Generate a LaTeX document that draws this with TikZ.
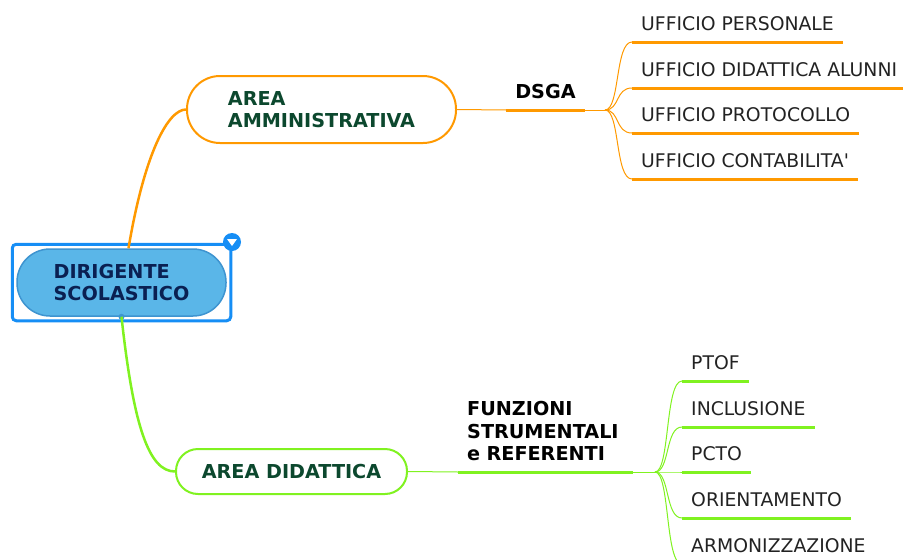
\documentclass[tikz,border=0pt]{standalone}
\usepackage{fontspec}
\setmainfont{DejaVu Sans}[Ligatures=TeXOff]
\usetikzlibrary{fit}
\definecolor{amorange}{RGB}{255,153,0}
\definecolor{didgreen}{RGB}{128,242,32}
\definecolor{areatext}{RGB}{12,72,46}
\definecolor{roottext}{RGB}{10,32,82}
\definecolor{rootfill}{RGB}{90,182,232}
\definecolor{rootdraw}{RGB}{62,148,208}
\definecolor{selblue}{RGB}{22,142,245}
\definecolor{leaftext}{RGB}{34,34,34}
\begin{document}
\begin{tikzpicture}[%
    x=1pt, y=-1pt,
    font=\fontsize{18.8}{22.5}\selectfont,
    pill/.style={draw, line width=2pt, fill=white, text=areatext, align=left,
      font=\fontsize{19.2}{22.5}\selectfont\bfseries},
    topic/.style={anchor=south, inner xsep=9pt, inner ysep=0pt, text depth=11pt,
      align=left, font=\fontsize{19.2}{22.5}\selectfont\bfseries},
    leaf/.style={anchor=south west, inner xsep=9pt, inner ysep=0pt, text depth=11pt,
      text=leaftext},
    thin/.style={line width=1pt},
    uline/.style={line width=3pt}]
  \useasboundingbox (0,0) rectangle (903,560);

  % root
  \node[draw=rootdraw, fill=rootfill, line width=1.5pt, rounded corners=33pt,
    minimum width=209pt, minimum height=67pt, align=left, text=roottext,
    font=\fontsize{19.2}{22.5}\selectfont\bfseries] (ds) at (121.5,282.5)
    {DIRIGENTE\\SCOLASTICO};
  \node[draw=selblue, line width=3pt, rounded corners=4pt, fit=(ds),
    inner sep=4pt] (sel) {};
  \node[circle, fill=selblue, minimum size=18pt, inner sep=0pt] (tog) at (232,242) {};
  \fill[white] (tog.center) ++(-5,-3) -- ++(10,0) -- ++(-5,7) -- cycle;
  \fill[rootdraw] (ds.south) circle (3pt);

  % area amministrativa
  \node[pill, draw=amorange, rounded corners=33pt, minimum width=269pt,
    minimum height=67pt] (am) at (321.5,109.5) {AREA\\AMMINISTRATIVA};
  \draw[amorange, line width=2.5pt] ([xshift=7pt]ds.north)
    .. controls +(16,-95) and +(-18,0) .. (am.west);
  \node[topic] (dsga) at (545.5,110) {DSGA};
  \draw[amorange, thin] (am.east) -- (dsga.south west);
  \draw[amorange, uline] (dsga.south west) -- (dsga.south east);
  \coordinate (dsgab) at (605,110);
  \draw[amorange, thin] (dsga.south east) -- (dsgab);

  \node[leaf] (u1) at (632,42) {UFFICIO PERSONALE};
  \node[leaf] (u2) at (632,88) {UFFICIO DIDATTICA ALUNNI};
  \node[leaf] (u3) at (632,133) {UFFICIO PROTOCOLLO};
  \node[leaf] (u4) at (632,179) {UFFICIO CONTABILITA'};
  \foreach \u in {u1,u2,u3,u4} {
    \draw[amorange, uline] (\u.south west) -- (\u.south east);
    \draw[amorange, thin] (dsgab) .. controls +(15,0) and +(-17,0) .. (\u.south west);
  }

  % area didattica
  \node[pill, draw=didgreen, rounded corners=22pt, minimum width=231pt,
    minimum height=45pt] (ad) at (291.5,471.5) {AREA DIDATTICA};
  \draw[didgreen, line width=2.5pt] (ds.south)
    .. controls +(12,110) and +(-26,0) .. (ad.west);
  \node[topic, anchor=south west, text width=157pt, text depth=56pt] (fs)
    at (458,472) {FUNZIONI\\STRUMENTALI\\e REFERENTI};
  \draw[didgreen, thin] (ad.east) -- (fs.south west);
  \draw[didgreen, uline] (fs.south west) -- (fs.south east);
  \coordinate (fsb) at (655,472);
  \draw[didgreen, thin] (fs.south east) -- (fsb);

  \node[leaf] (f1) at (682,381) {PTOF};
  \node[leaf] (f2) at (682,427) {INCLUSIONE};
  \node[leaf] (f3) at (682,472) {PCTO};
  \node[leaf] (f4) at (682,518) {ORIENTAMENTO};
  \node[leaf] (f5) at (682,564) {ARMONIZZAZIONE};
  \foreach \f in {f1,f2,f3,f4,f5} {
    \draw[didgreen, uline] (\f.south west) -- (\f.south east);
    \draw[didgreen, thin] (fsb) .. controls +(15,0) and +(-17,0) .. (\f.south west);
  }
\end{tikzpicture}
\end{document}
